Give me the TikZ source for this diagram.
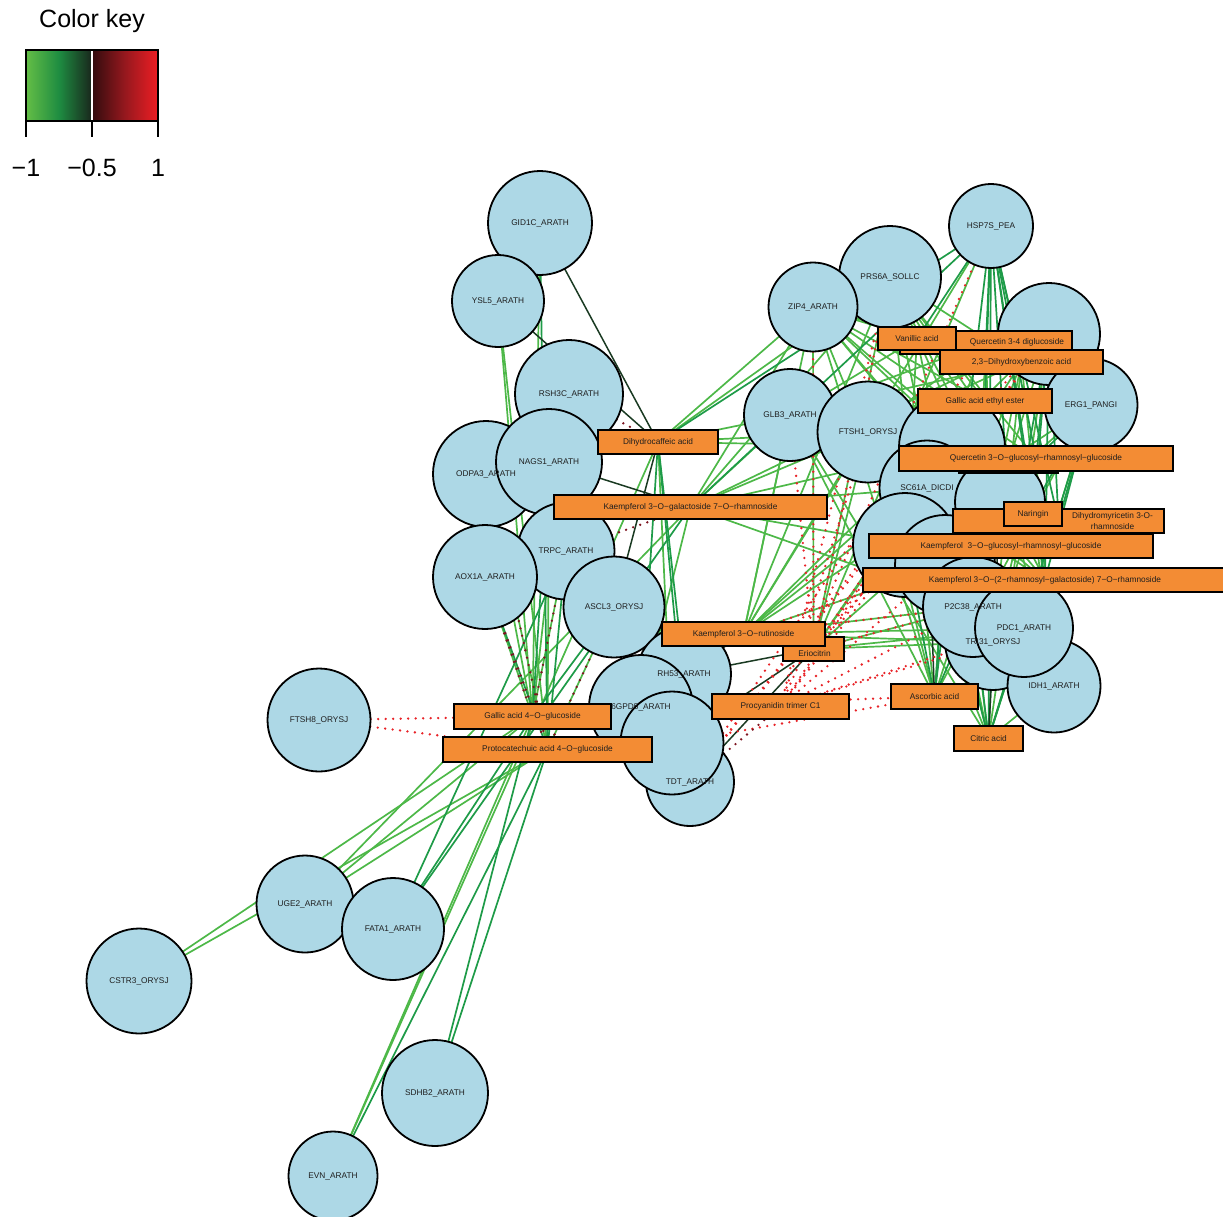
\documentclass[tikz,border=0pt]{standalone}
\usepackage{fontspec}
\setmainfont{Liberation Sans}
\definecolor{nodeblue}{RGB}{173,216,230}
\definecolor{boxorange}{RGB}{243,140,52}
\definecolor{lgreen}{RGB}{77,184,72}
\definecolor{mgreen}{RGB}{30,155,72}
\definecolor{dgreen}{RGB}{26,58,34}
\definecolor{ered}{RGB}{232,35,40}
\definecolor{dred}{RGB}{125,20,32}
\definecolor{txt}{RGB}{30,30,30}
\definecolor{ckA}{RGB}{100,190,70}
\definecolor{ckB}{RGB}{30,140,65}
\definecolor{ckC}{RGB}{25,38,28}
\definecolor{ckD}{RGB}{50,12,14}
\definecolor{ckE}{RGB}{150,24,30}
\definecolor{ckF}{RGB}{238,30,36}
\def\protlist{gid/540/223/104,ysl/498/301/92,rsh/569/394/108,odp/486/474/106,nag/549/462/106,
trp/566/551/97,aox/485/577/104,asc/614/607/101,rh5/684/674/94,g6p/641/707/104,tdt/690/782/88,
unk1/672/743/103,ftsh8/319/720/103,uge/305/904/97,fat/393/929/102,cst/139/981/105,sdh/435/1093/106,
evn/333/1176/89,hsp/991/226/84,prs/890/277/102,zip/813/307/89,unk2/1049/334/102,erg/1091/405/93,
glb/790/415/92,fts1/868/432/101,unk3/952/447/106,sc6/927/488/95,unk4/1000/502/90,unk5/905/545/104,
unk6/945/565/100,tri/993/642/96,p2c/973/607/100,idh/1054/686/93,pdc/1024/628/98}
\def\metlist{dhc/658/442/120/24,kgr/690.5/507/273/24,kru/743.5/634/163/24,eri/813.5/649/61/24,
pcy/780.5/706.5/137/25,gal4/532.5/716.5/157/25,pro4/547.5/749.5/209/25,asca/934.5/696.5/87/25,
cit/988.5/738.5/69/25,van/917/338.5/78/23,q34/986/342.5/172/23,dhb/1021.5/362/163/24,
gae/985/401/134/24,qgrg/1036/458.5/274/25,hid1/1008.5/461/99/24,nar/1033/514/58/24,
dmr/1058.5/521/211/24,kgrg/1011/546/284/24,krgr/1045/580/364/24}
\begin{document}
\begin{tikzpicture}[x=1pt,y=-1pt,
  prot/.style={circle,draw=black,line width=1.8pt,fill=nodeblue,inner sep=0pt},
  plab/.style={font=\fontsize{8.3}{9}\selectfont,text=txt,inner sep=0pt},
  met/.style={rectangle,draw=black,line width=1.8pt,fill=boxorange,inner sep=0pt,font=\fontsize{8.3}{9.5}\selectfont,text=txt},
  anchorc/.style={circle,inner sep=0pt},
  anchorr/.style={rectangle,inner sep=0pt},
  lg/.style={draw=lgreen,line width=1.7pt},
  mg/.style={draw=mgreen,line width=1.7pt},
  dg/.style={draw=dgreen,line width=1.5pt},
  rdot/.style={draw=ered,line width=2.6pt,dash pattern=on 0pt off 7.5pt,line cap=round},
  drdot/.style={draw=dred,line width=2.6pt,dash pattern=on 0pt off 7.5pt,line cap=round},
  ckt/.style={font=\fontsize{25}{28}\selectfont,text=black,inner sep=0pt}
]
\useasboundingbox (0,0) rectangle (1223,1216);

% ---------- invisible anchors ----------
\foreach \n/\x/\y/\d in \protlist {\node[anchorc,minimum size=\d pt] (\n) at (\x,\y) {};}
\foreach \n/\x/\y/\w/\h in \metlist {\node[anchorr,minimum width=\w pt,minimum height=\h pt] (\n) at (\x,\y) {};}

% ---------- edges ----------
\foreach \a/\b in {gid/gal4,ysl/gal4,ysl/pro4,odp/gal4,odp/pro4,nag/pro4,trp/gal4,aox/gal4,asc/pro4,rsh/gal4,
  cst/gal4,cst/pro4,uge/gal4,uge/pro4,uge/kgr,evn/gal4,evn/dhc,unk1/dhc,g6p/kgr,
  dhc/zip,dhc/prs,dhc/glb,dhc/fts1,dhc/unk3,
  kgr/zip,kgr/prs,kgr/glb,kgr/fts1,kgr/unk3,kgr/sc6,kgr/unk5,kgr/p2c,kgr/unk2,
  kru/prs,kru/glb,kru/fts1,kru/unk3,kru/sc6,kru/unk6,kru/p2c,kru/tri,kru/zip,kru/unk2,kru/hsp,kru/pdc,kru/erg,
  eri/prs,eri/fts1,eri/unk3,eri/sc6,eri/p2c,eri/tri,eri/zip,eri/hsp,eri/pdc,eri/erg,
  van/glb,van/zip,van/unk5,van/p2c,
  q34/glb,q34/zip,q34/unk5,q34/p2c,q34/tri,q34/fts1,
  dhb/glb,dhb/zip,dhb/prs,dhb/unk5,dhb/unk6,dhb/p2c,dhb/tri,dhb/idh,dhb/fts1,
  gae/zip,gae/glb,gae/prs,gae/unk5,gae/p2c,gae/tri,gae/idh,
  qgrg/prs,qgrg/zip,qgrg/glb,qgrg/p2c,qgrg/tri,qgrg/idh,
  nar/prs,nar/zip,nar/glb,nar/tri,nar/idh,
  dmr/prs,dmr/zip,dmr/glb,
  kgrg/prs,kgrg/zip,kgrg/glb,kgrg/fts1,
  krgr/prs,krgr/zip,krgr/glb,krgr/fts1,
  asca/prs,asca/zip,asca/glb,asca/fts1,asca/unk3,asca/unk2,asca/erg,
  cit/prs,cit/zip,cit/glb,cit/unk2,cit/erg,cit/unk3,cit/sc6,cit/idh,cit/pdc}
  \draw[lg] (\a) -- (\b);

\foreach \a/\b in {gid/pro4,nag/gal4,trp/pro4,aox/pro4,asc/gal4,fat/gal4,fat/trp,fat/kgr,sdh/gal4,sdh/pro4,evn/pro4,
  rh5/dhc,g6p/dhc,tdt/dhc,
  hsp/van,hsp/q34,hsp/dhb,hsp/gae,hsp/qgrg,hsp/nar,hsp/dmr,hsp/kgrg,hsp/krgr,hsp/asca,hsp/cit,
  dhc/hsp,kgr/hsp,
  unk2/qgrg,unk2/nar,unk2/dmr,unk2/kgrg,unk2/krgr,erg/qgrg,erg/dmr,erg/kgrg,erg/krgr,erg/cit,
  tri/cit,p2c/cit,pdc/cit,p2c/asca,unk6/asca,unk5/asca,unk6/cit}
  \draw[mg] (\a) -- (\b);

\foreach \a/\b in {gid/dhc,ysl/dhc,nag/kgr,asc/dhc,rh5/eri,tdt/eri,unk1/eri,rh5/kru,unk4/nar,unk4/cit,sc6/asca}
  \draw[dg] (\a) -- (\b);

\foreach \a/\b in {ftsh8/gal4,ftsh8/pro4,hsp/pcy,prs/pcy,prs/eri,zip/eri,unk2/eri,unk2/pcy,glb/eri,fts1/pcy,
  sc6/pcy,unk3/eri,p2c/pcy,unk6/pcy,unk5/pcy,unk5/eri,tri/pcy,p2c/eri,pdc/pcy,tdt/gae,tdt/dhb,tdt/q34,
  unk1/asca,g6p/asca,unk6/kru,p2c/kru}
  \draw[rdot] (\a) -- (\b);

\foreach \a/\b in {aox/gal4,aox/pro4,trp/gal4,odp/pro4,asc/pro4,rsh/dhc,trp/kgr,nag/dhc,tdt/pcy,g6p/pcy}
  \draw[drdot] (\a) -- (\b);

% ---------- circles ----------
\foreach \n/\x/\y/\d in \protlist {\node[prot,minimum size=\d pt] (\n V) at (\x,\y) {};}

% ---------- circle labels ----------
\node[plab] (gidL) at (gid) {GID1C\_ARATH};
\node[plab] (yslL) at (ysl) {YSL5\_ARATH};
\node[plab] (rshL) at (rsh) {RSH3C\_ARATH};
\node[plab] (odpL) at (odp) {ODPA3\_ARATH};
\node[plab] (nagL) at (nag) {NAGS1\_ARATH};
\node[plab] (trpL) at (trp) {TRPC\_ARATH};
\node[plab] (aoxL) at (aox) {AOX1A\_ARATH};
\node[plab] (ascL) at (asc) {ASCL3\_ORYSJ};
\node[plab] (rh5L) at (rh5) {RH53\_ARATH};
\node[plab] (g6pL) at (g6p) {6GPD5\_ARATH};
\node[plab] (tdtL) at (tdt) {TDT\_ARATH};
\node[plab] (ftsh8L) at (ftsh8) {FTSH8\_ORYSJ};
\node[plab] (ugeL) at (uge) {UGE2\_ARATH};
\node[plab] (fatL) at (fat) {FATA1\_ARATH};
\node[plab] (cstL) at (cst) {CSTR3\_ORYSJ};
\node[plab] (sdhL) at (sdh) {SDHB2\_ARATH};
\node[plab] (evnL) at (evn) {EVN\_ARATH};
\node[plab] (hspL) at (hsp) {HSP7S\_PEA};
\node[plab] (prsL) at (prs) {PRS6A\_SOLLC};
\node[plab] (zipL) at (zip) {ZIP4\_ARATH};
\node[plab] (ergL) at (erg) {ERG1\_PANGI};
\node[plab] (glbL) at (glb) {GLB3\_ARATH};
\node[plab] (fts1L) at (fts1) {FTSH1\_ORYSJ};
\node[plab] (sc6L) at (sc6) {SC61A\_DICDI};
\node[plab] (p2cL) at (p2c) {P2C38\_ARATH};
\node[plab] (triL) at (tri) {TRI31\_ORYSJ};
\node[plab] (pdcL) at (pdc) {PDC1\_ARATH};
\node[plab] (idhL) at (idh) {IDH1\_ARATH};

% ---------- metabolite boxes ----------
\node[met,minimum width=120pt,minimum height=24pt] (dhcV) at (dhc) {Dihydrocaffeic acid};
\node[met,minimum width=273pt,minimum height=24pt] (kgrV) at (kgr) {Kaempferol 3−O−galactoside 7−O−rhamnoside};
\node[met,minimum width=61pt,minimum height=24pt] (eriV) at (eri) {};
\node[met,minimum width=163pt,minimum height=24pt] (kruV) at (kru) {Kaempferol 3−O−rutinoside};
\node[plab] (eriL) at (814.5,653.5) {Eriocitrin};
\node[met,minimum width=137pt,minimum height=25pt] (pcyV) at (pcy) {Procyanidin trimer C1};
\node[met,minimum width=157pt,minimum height=25pt] (gal4V) at (gal4) {Gallic acid 4−O−glucoside};
\node[met,minimum width=209pt,minimum height=25pt] (pro4V) at (pro4) {Protocatechuic acid 4−O−glucoside};
\node[met,minimum width=87pt,minimum height=25pt] (ascaV) at (asca) {Ascorbic acid};
\node[met,minimum width=69pt,minimum height=25pt] (citV) at (cit) {Citric acid};
\node[met,minimum width=172pt,minimum height=23pt] (q34V) at (q34) {\hspace{62pt}Quercetin 3-4 diglucoside};
\node[met,minimum width=163pt,minimum height=24pt] (dhbV) at (dhb) {2,3−Dihydroxybenzoic acid};
\node[met,minimum width=78pt,minimum height=23pt] (vanV) at (van) {Vanillic acid};
\node[met,minimum width=134pt,minimum height=24pt] (gaeV) at (gae) {Gallic acid ethyl ester};
\node[met,minimum width=99pt,minimum height=24pt] (hid1V) at (hid1) {};
\node[met,minimum width=274pt,minimum height=25pt] (qgrgV) at (qgrg) {Quercetin 3−O−glucosyl−rhamnosyl−glucoside};
\node[met,minimum width=211pt,minimum height=24pt] (dmrV) at (dmr) {\hspace{108pt}\shortstack{Dihydromyricetin 3-O-\\[-0.5pt]rhamnoside}};
\node[met,minimum width=58pt,minimum height=24pt] (narV) at (nar) {Naringin};
\node[met,minimum width=284pt,minimum height=24pt] (kgrgV) at (kgrg) {Kaempferol\ \ 3−O−glucosyl−rhamnosyl−glucoside};
\node[met,minimum width=364pt,minimum height=24pt] (krgrV) at (krgr) {Kaempferol 3−O−(2−rhamnosyl−galactoside) 7−O−rhamnoside};

% ---------- colour key ----------
\node[ckt] (ckTitle) at (92,21) {Color key};
\shade[left color=ckA,right color=ckC,middle color=ckB] (26,50) rectangle (92,121);
\shade[left color=ckD,right color=ckF,middle color=ckE] (92,50) rectangle (158,121);
\draw[white,line width=1.5pt] (92,50) -- (92,121);
\draw[black,line width=1.5pt] (26,50) rectangle (158,121);
\draw[black,line width=1.5pt] (26,121) -- (26,137);
\draw[black,line width=2.5pt] (92,121) -- (92,137);
\draw[black,line width=1.5pt] (158,121) -- (158,137);
\node[ckt] (ckL1) at (26,168) {−1};
\node[ckt] (ckL2) at (92,168) {−0.5};
\node[ckt] (ckL3) at (158,168) {1};
\end{tikzpicture}
\end{document}
